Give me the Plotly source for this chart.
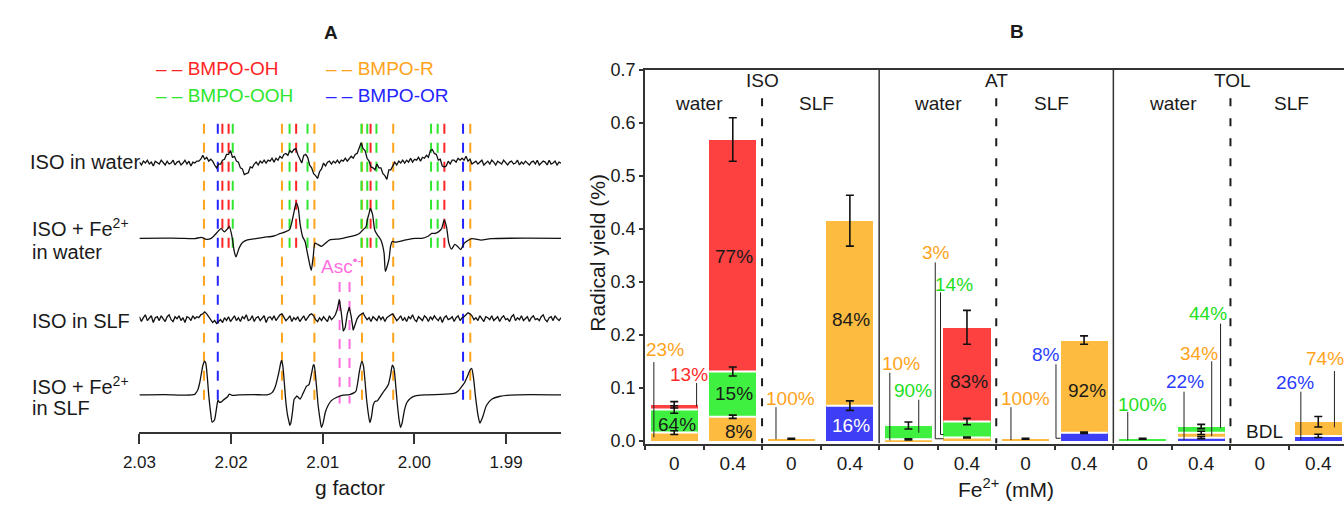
import numpy as np
import plotly.graph_objects as go

W, H = 1344, 508
FONT = "Liberation Sans, Arial, Helvetica, sans-serif"
INK = "#1a1a1a"

# ------------------------------------------------------------------
# Panel A data: EPR spectra, g factor vs. intensity (a.u.)
# ------------------------------------------------------------------
G_LEFT, G_RIGHT = 2.03, 1.984

# noisy spectra, recorded on an even sweep from G_LEFT to G_RIGHT
iso_water = [1, -2, 2, 0, 3, -1, 1, -3, 2, 0, -1, 3, 1, -2, 2, -1, 0, 3, -2, 1,
             2, -2, 0, 3, -1, 2, -3, 1, 0, 2,
             2, 4, 8, 4, 6, 2, 4, 2, -2, -5,
             -1, -1, 3, 4, 9, 9, 13, 6, 7, 2,
             1, -5, -6, -12, -11, -10, -4, -5, -1, 1,
             -2, 2, 0, 3, 0, 3, 2, 5, 1, 5,
             3, 7, 5, 9, 10, 8, 13, 11, 14, 15,
             9, 5, 0, 8, 9, 6, -2, -5, -11, -13,
             -16, -9, -6, 0, -3, 1, 2, -1, 2, 0,
             3, 0, 3, 2, 5, 2, 5, 7, 5, 9,
             10, 16, 21, 15, 13, 5, 2, -4, -5, -7,
             -1, -5, -5, -11, -13, -17, -7, -7, -2, 1,
             -2, 2, 0, 3, 0, 3, 1, 5, 1, 4,
             3, 6, 2, 6, 5, 8, 6, 13, 14, 10,
             9, 3, 4, -3, -4, -3, 2, -1, 3, 3,
             1, 5, 3, 5, 3, 7, 2, 4, -1, 1,
             2, -1, 1, 3, -2, 0, 2, -1, 3, 1, -2, 2, 0, -1, 3, 1, -2, 1, 2, -1,
             0, 3, -2, 1, -1, 2, 0, -2, 1, 2, -1, 3, -2, 0, 2, 1, -2, 3, -1, 0,
             2, -2, 1, 0]

iso_slf = [2, -3, 1, 4, -2, 0, 3, -4, 1, 2,
           -2, 3, 0, -3, 2, 4, -1, -3, 2, 0,
           3, -2, 1, -4, 2, 1, -2, 3, 0, 2,
           1, 4, 5, 7, 5, 2, -1, -4, -2, -5,
           -3, -1, -4, 1, -2, 2, -3, 0, 3, -2,
           1, -3, 2, 0, 4, -2, -1, 3, -3, 1,
           2, -2, 0, 3, -4, 1, 2, -1, 3, -2,
           1, 4, 5, 2, -2, 0, 3, -3, 1, -1,
           2, -3, 0, 3, -2, 1, 4, 5, 3, -1,
           -3, 1, -2, 2, 0, -3, 3, -1, 1, 4,
           10, 20, 6, -13, -9, 5, 12, 2, -12, -6, 0,
           3, 5, 6, 2, -1, 1, -3, 2, 0, -2,
           3, -1, 2, -3, 1, 3, 4, 5, 1, -2,
           0, 3, -2, 1, -3, 2, 0, 4, -1, -3,
           2, 0, -2, 3, 1, -3, 2, -1, 3, 0,
           -2, 2, -4, 1, 3, -1, 0, 2, -3, 1,
           3, -2, 1, 2, 4, 6, 5, 3, -1, 1,
           -2, 3, 0, -3, 2, 1, -1, 3, -2, 0,
           2, -3, 1, 3, -1, 0, -3, 2, 4, -2,
           1, -1, 3, -2, 0, 2, -3, 1, 3, -1,
           0, -2, 2, 4, -1, -3, 1, 2, -2, 3,
           0, -2, 1]

# smooth spectra with Fe2+, given as (g, intensity) points
fe_water_g = [2.03000, 2.02720, 2.02558, 2.02397, 2.02324, 2.02270, 2.02217, 2.02163,
              2.02109, 2.02073, 2.02038, 2.02019, 2.01990, 2.01966, 2.01947, 2.01912,
              2.01876, 2.01822, 2.01750, 2.01642, 2.01534, 2.01462, 2.01408, 2.01362,
              2.01337, 2.01311, 2.01290, 2.01268, 2.01247, 2.01219, 2.01193, 2.01168,
              2.01139, 2.01125, 2.01103, 2.01085, 2.01050, 2.01014, 2.00977, 2.00923,
              2.00816, 2.00708, 2.00637, 2.00600, 2.00565, 2.00529, 2.00511, 2.00492,
              2.00482, 2.00457, 2.00432, 2.00403, 2.00367, 2.00331, 2.00317, 2.00277,
              2.00260, 2.00241, 2.00206, 2.00134, 2.00061, 1.99990, 1.99918, 1.99846,
              1.99810, 1.99775, 1.99738, 1.99703, 1.99674, 1.99649, 1.99624, 1.99595,
              1.99559, 1.99530, 1.99494, 1.99455, 1.99374, 1.99272, 1.99164, 1.98400]
fe_water_int = [0, 0.2, 0, -0.3, 1, -1, 0, 5,
                10, 6.7, 10, 12.4, 1.7, -13.3, -19.3, -10,
                -4.3, -1.6, -0.6, 1, 2.4, 5, 6.7, 9,
                16.7, 28.4, 36.7, 31.7, 15, 1.7, -3.3, -15,
                -28.3, -33.3, -18.3, -5, -6.6, -8.3, -5.6, -1.6,
                -0.6, 1.7, 3.4, 5, 8.4, 11.7, 20, 26.7,
                31, 25, 8.4, 3.4, -1.6, -15, -34.3, -21.6,
                -8.3, -3.3, -4, -2.6, -1, 0, 0, 2.4,
                5, 5, 6.7, 10, 19, 11.7, -5, -11.3,
                -6.3, -8.3, -11.6, -5, -0.3, -1.8, -0.3, 0]

fe_slf_g = [2.03000, 2.02720, 2.02504, 2.02397, 2.02378, 2.02361, 2.02343, 2.02324,
            2.02307, 2.02289, 2.02275, 2.02260, 2.02243, 2.02224, 2.02206, 2.02181,
            2.02159, 2.02143, 2.02127, 2.02106, 2.02084, 2.02041, 2.02019, 2.01987,
            2.01912, 2.01750, 2.01607, 2.01553, 2.01516, 2.01481, 2.01456, 2.01448,
            2.01434, 2.01419, 2.01402, 2.01384, 2.01365, 2.01359, 2.01348, 2.01330,
            2.01311, 2.01294, 2.01283, 2.01247, 2.01211, 2.01176, 2.01150, 2.01122,
            2.01103, 2.01096, 2.01085, 2.01068, 2.01050, 2.01031, 2.01014, 2.00996,
            2.00971, 2.00942, 2.00906, 2.00852, 2.00780, 2.00708, 2.00656, 2.00637,
            2.00619, 2.00600, 2.00575, 2.00557, 2.00540, 2.00522, 2.00503, 2.00486,
            2.00468, 2.00450, 2.00432, 2.00403, 2.00367, 2.00331, 2.00306, 2.00284,
            2.00260, 2.00241, 2.00223, 2.00206, 2.00188, 2.00169, 2.00152, 2.00134,
            2.00109, 2.00080, 2.00045, 1.99990, 1.99883, 1.99667, 1.99559, 1.99523,
            1.99494, 1.99455, 1.99422, 1.99393, 1.99374, 1.99353, 1.99334, 1.99306,
            1.99285, 1.99254, 1.99214, 1.99153, 1.99074, 1.98955, 1.98733, 1.98400]
fe_slf_int = [0, 0.3, -0.3, 0.5, 2.7, 5.7, 12.3, 22.3,
              30.7, 35, 32.3, 19, -1, -17.7, -28.3, -26,
              -14, -5.5, -7.7, -7.3, -5.3, -2.3, 0.7, -0.5,
              0, 0.3, 0, 2.3, 9, 22.3, 34, 35.7,
              29, 12.3, -7.7, -21, -29.3, -31.7, -29.3, -17.7,
              -4.3, -2.7, -1, -4.3, 2.3, 9, 10.7, 22.3,
              30.7, 31.3, 25.7, 9, -11, -24.3, -33.7, -29.3,
              -17.7, -11, -6, -2.7, -0.3, 0.3, 2.3, 4,
              12.3, 24, 34.7, 30.7, 15.7, -4.3, -19.3, -28.7,
              -22.7, -11, -7, -6, -1, 4, 7.3, 10.7,
              20.7, 30.7, 27.3, 12.3, -7.7, -24.3, -33.7, -29.3,
              -16, -7.7, -3.7, -1, 0, 0.7, 1.7, 4,
              7.3, 12.3, 19, 25.7, 27.3, 16, -1, -21,
              -29.3, -22.7, -11, -4.3, -1.7, -0.3, 0.3, 0]

# line positions (g) of the spin adducts and of the ascorbyl radical
lines_r = [2.02296, 2.01445, 2.01091, 2.00572, 2.00231, 1.99390]
lines_or = [2.02145, 1.99469]
lines_oh = [2.02095, 2.02027, 2.01290, 2.00478, 1.99673]
lines_ooh = [2.01982, 2.01362, 2.01166, 2.00578, 2.00514, 2.00414, 1.99818, 1.99746]
lines_asc = [2.00816, 2.00708]

g_ticks = [2.03, 2.02, 2.01, 2.00, 1.99]

# ------------------------------------------------------------------
# Panel B data: radical yield (%) and adduct shares
# ------------------------------------------------------------------
fe_levels = ["0", "0.4", "0", "0.4", "0", "0.4", "0", "0.4", "0", "0.4", "0", "0.4"]
totals = [0.068, 0.568, 0.004, 0.415, 0.029, 0.214, 0.004, 0.190, 0.004, 0.027, 0.0, 0.036]
pct_or = [0, 0, 0, 16, 0, 0, 0, 8, 0, 22, 0, 26]
pct_r = [23, 8, 100, 84, 10, 3, 100, 92, 0, 34, 0, 74]
pct_ooh = [64, 15, 0, 0, 90, 14, 0, 0, 100, 44, 0, 0]
pct_oh = [13, 77, 0, 0, 0, 83, 0, 0, 0, 0, 0, 0]
err_or = [0, 0, 0, 0.009, 0, 0, 0, 0.0012, 0, 0.002, 0, 0.003]
err_r = [0.0035, 0.003, 0.0008, 0.048, 0.001, 0.001, 0.0008, 0.008, 0, 0.003, 0, 0.010]
err_ooh = [0.007, 0.0085, 0, 0, 0.0065, 0.006, 0, 0, 0.001, 0.004, 0, 0]
err_oh = [0.006, 0.041, 0, 0, 0, 0.032, 0, 0, 0, 0, 0, 0]
y_ticks_b = [0.0, 0.1, 0.2, 0.3, 0.4, 0.5, 0.6, 0.7]

# ------------------------------------------------------------------
# colours
# ------------------------------------------------------------------
C_RED, C_GREEN, C_ORANGE, C_BLUE, C_PINK = "#ff2424", "#2ee62e", "#ffa31a", "#2424ff", "#ff6fe0"
BAR = {"or": "#3e3ef6", "r": "#fdbb3f", "ooh": "#40f040", "oh": "#fd4141"}
TXT = {"or": "#2a3cff", "r": "#ffa31a", "ooh": "#22e022", "oh": "#ff2b2b"}


def px_x(px):
    return px / W


def px_y(py):
    return 1 - py / H


fig = go.Figure()

# ------------------------------------------------------------------
# Panel A
# ------------------------------------------------------------------
A_AXIS_PX, A_TOP_PX = 437.5, 100.0     # panel A y-units are pixels above the g axis


def a_level(py):
    return A_AXIS_PX - py


def marker_lines(gs, top, bottom, color):
    xs, ys = [], []
    for g in gs:
        xs += [g, g, None]
        ys += [top, bottom, None]
    fig.add_trace(go.Scatter(x=xs, y=ys, mode="lines", xaxis="x", yaxis="y",
                             line=dict(color=color, width=2, dash="10px,9px"),
                             hoverinfo="skip", showlegend=False))


marker_lines(lines_r, a_level(118), a_level(412), C_ORANGE)
marker_lines(lines_or, a_level(118), a_level(412), C_BLUE)
marker_lines(lines_asc, a_level(282), a_level(408), C_PINK)
marker_lines(lines_oh, a_level(118), a_level(250), C_RED)
marker_lines(lines_ooh, a_level(118), a_level(250), C_GREEN)

baseline = {"iso_water": a_level(158.7), "fe_water": a_level(236.7),
            "iso_slf": a_level(320.0), "fe_slf": a_level(399.0)}

spectra = [
    (np.linspace(G_LEFT, G_RIGHT, len(iso_water)), np.array(iso_water, float), "iso_water", "linear"),
    (np.array(fe_water_g), np.array(fe_water_int), "fe_water", "spline"),
    (np.linspace(G_LEFT, G_RIGHT, len(iso_slf)), np.array(iso_slf, float), "iso_slf", "linear"),
    (np.array(fe_slf_g), np.array(fe_slf_int), "fe_slf", "spline"),
]
for gx, inten, key, shape in spectra:
    fig.add_trace(go.Scatter(x=gx, y=inten + baseline[key], mode="lines",
                             xaxis="x", yaxis="y",
                             line=dict(color="#111111", width=1.3, shape=shape,
                                       smoothing=0.6 if shape == "spline" else None),
                             hoverinfo="skip", showlegend=False))

# ------------------------------------------------------------------
# Panel B: stacked bars
# ------------------------------------------------------------------
B_X0_PX, B_CAT_PX = 636.0, 59.3
B_ZERO_PX, B_TOP_PX = 446.7, 61.7
B_YMIN = -0.005
b_per_unit = (B_ZERO_PX - B_TOP_PX) / 0.7
BAR_W = 0.804

cats = np.arange(len(totals))
tot = np.array(totals)
species = [("or", pct_or, err_or), ("r", pct_r, err_r),
           ("ooh", pct_ooh, err_ooh), ("oh", pct_oh, err_oh)]
seg = {k: tot * np.array(p) / 100.0 for k, p, _ in species}

for k, _, _ in species:
    fig.add_trace(go.Bar(x=cats, y=seg[k], width=BAR_W, xaxis="x2", yaxis="y2",
                         marker=dict(color=BAR[k], line=dict(width=0)),
                         hoverinfo="skip", showlegend=False))

# white seams between stacked segments, then error bars at segment tops
seam_x, seam_y = [], []
err_x, err_y, err_v = [], [], []
cum = np.zeros(len(totals))
for idx, (k, _, e) in enumerate(species):
    top = cum + seg[k]
    for i in cats:
        if seg[k][i] > 0:
            above = any(seg[kk][i] > 0 for kk, _, _ in species[idx + 1:])
            if above:
                seam_x += [i - BAR_W / 2, i + BAR_W / 2, None]
                seam_y += [top[i], top[i], None]
            if e[i] > 0:
                err_x.append(i)
                err_y.append(top[i])
                err_v.append(e[i])
    cum = top

fig.add_trace(go.Scatter(x=seam_x, y=seam_y, mode="lines", xaxis="x2", yaxis="y2",
                         line=dict(color="white", width=2), hoverinfo="skip", showlegend=False))
fig.add_trace(go.Scatter(x=err_x, y=err_y, mode="markers", xaxis="x2", yaxis="y2",
                         marker=dict(size=1, color="rgba(0,0,0,0)"),
                         error_y=dict(type="data", array=err_v, visible=True,
                                      color="#111111", thickness=1.6, width=4),
                         hoverinfo="skip", showlegend=False))
# carrier for the category label axis
fig.add_trace(go.Scatter(x=list(cats), y=[None] * len(cats), xaxis="x3", yaxis="y2",
                         mode="markers", hoverinfo="skip", showlegend=False))

# percentage labels: (category, species, x, y, colour, leader polyline)
label_spots = [
    (0, "r", -0.151, 0.1727, TXT["r"], [(-0.348, 0.1485), (-0.348, 0.0067)]),
    (0, "oh", 0.254, 0.1255, TXT["oh"], [(0.382, 0.109), (0.382, 0.065)]),
    (0, "ooh", 0.045, 0.030, INK, None),
    (1, "r", 1.102, 0.017, INK, None),
    (1, "ooh", 1.018, 0.089, INK, None),
    (1, "oh", 1.018, 0.347, INK, None),
    (2, "r", 1.979, 0.0795, TXT["r"], [(1.738, 0.0636), (1.738, 0.003)]),
    (3, "r", 3.013, 0.2285, INK, None),
    (3, "or", 3.024, 0.0285, "white", None),
    (4, "r", 3.868, 0.1455, TXT["r"], [(3.682, 0.1285), (3.682, 0.001)]),
    (4, "ooh", 4.075, 0.0958, TXT["ooh"], [(4.176, 0.0776), (4.176, 0.0153)]),
    (5, "r", 4.470, 0.3545, TXT["r"], [(4.458, 0.3364), (4.458, 0.004), (4.60, 0.004)]),
    (5, "ooh", 4.784, 0.294, TXT["ooh"], [(4.548, 0.280), (4.548, 0.012), (4.60, 0.012)]),
    (5, "oh", 5.031, 0.111, INK, None),
    (6, "r", 6.004, 0.080, TXT["r"], [(5.751, 0.0636), (5.751, 0.0013)]),
    (7, "or", 6.358, 0.1636, TXT["or"], [(6.52, 0.1444), (6.52, 0.005), (6.60, 0.005)]),
    (7, "r", 7.043, 0.0958, INK, None),
    (8, "ooh", 7.999, 0.068, TXT["ooh"], [(7.746, 0.0545), (7.746, 0.001)]),
    (9, "or", 8.719, 0.112, TXT["or"], [(8.707, 0.0927), (8.707, 0.001)]),
    (9, "r", 8.966, 0.165, TXT["r"], [(9.18, 0.150), (9.18, 0.009)]),
    (9, "ooh", 9.112, 0.2395, TXT["ooh"], [(9.331, 0.221), (9.331, 0.024)]),
    (11, "or", 10.601, 0.110, TXT["or"], [(10.702, 0.0927), (10.702, 0.001)]),
    (11, "r", 11.119, 0.1545, TXT["r"], [(11.276, 0.1316), (11.276, 0.0255)]),
]
pct_of = {k: p for k, p, _ in species}

annotations = []
lead_x, lead_y = [], []
for cat, k, lx, ly, col, leader in label_spots:
    annotations.append(dict(x=lx, y=ly, xref="x2", yref="y2", text=f"{pct_of[k][cat]}%",
                            showarrow=False, font=dict(size=19, color=col),
                            xanchor="center", yanchor="middle"))
    if leader:
        lead_x += [p[0] for p in leader] + [None]
        lead_y += [p[1] for p in leader] + [None]
fig.add_trace(go.Scatter(x=lead_x, y=lead_y, mode="lines", xaxis="x2", yaxis="y2",
                         line=dict(color="#222222", width=1), hoverinfo="skip", showlegend=False))

annotations.append(dict(x=10.079, y=0.017, xref="x2", yref="y2", text="BDL", showarrow=False,
                        font=dict(size=19, color=INK), xanchor="center", yanchor="middle"))

# group headings
for txt, gx, gy in [("ISO", 1.5, 0.679), ("water", 0.43, 0.636), ("SLF", 2.43, 0.636),
                    ("AT", 5.5, 0.679), ("water", 4.51, 0.636), ("SLF", 6.45, 0.636),
                    ("TOL", 9.53, 0.679), ("water", 8.52, 0.636), ("SLF", 10.54, 0.636)]:
    annotations.append(dict(x=gx, y=gy, xref="x2", yref="y2", text=txt, showarrow=False,
                            font=dict(size=19, color=INK), xanchor="center", yanchor="middle"))

shapes = []
for sx in [1.5, 5.5, 9.5]:
    shapes.append(dict(type="line", xref="x2", yref="y2", x0=sx, x1=sx, y0=0.646, y1=B_YMIN,
                       line=dict(color=INK, width=2, dash="8px,12px")))
for sx in [3.5, 7.5]:
    shapes.append(dict(type="line", xref="x2", yref="y2", x0=sx, x1=sx, y0=B_YMIN, y1=0.7,
                       line=dict(color="#333333", width=1.5)))

# ------------------------------------------------------------------
# Panel A text
# ------------------------------------------------------------------
def paper_text(txt, x, y, size, color=INK, xanchor="left", **kw):
    annotations.append(dict(x=px_x(x), y=px_y(y), xref="paper", yref="paper", text=txt,
                            showarrow=False, font=dict(size=size, color=color),
                            xanchor=xanchor, yanchor="middle", **kw))


paper_text("<b>A</b>", 318, 23, 19, xanchor="center")
paper_text("<b>B</b>", 1013, 22, 19, xanchor="center")
paper_text("– – BMPO-OH", 138.7, 61, 19, C_RED)
paper_text("– – BMPO-OOH", 138.7, 89, 19, C_GREEN)
paper_text("– – BMPO-R", 310.7, 61, 19, C_ORANGE)
paper_text("– – BMPO-OR", 310.7, 89, 19, C_BLUE)
paper_text("ISO in water", 11, 158, 20)
paper_text("ISO + Fe<sup>2+</sup>", 13, 226, 20)
paper_text("in water", 13, 251, 20)
paper_text("ISO in SLF", 13, 322, 20)
paper_text("ISO + Fe<sup>2+</sup>", 13, 389, 20)
paper_text("in SLF", 13, 413, 20)
paper_text("Asc<sup>•-</sup>", 306, 264, 19, C_PINK)
paper_text("g factor", 337.5, 495, 21, xanchor="center")
paper_text("Radical yield (%)", 588, 252, 21, xanchor="center", textangle=-90)
paper_text("Fe<sup>2+</sup> (mM)", 1002, 496, 21, xanchor="center")

# ------------------------------------------------------------------
# Layout
# ------------------------------------------------------------------
a_dom_y = [px_y(A_AXIS_PX), px_y(A_TOP_PX)]
b_dom_y = [px_y(B_ZERO_PX - B_YMIN * b_per_unit), px_y(B_TOP_PX)]
b_dom_x = [px_x(B_X0_PX), 1.0]
b_xrange = [-0.5, -0.5 + (W - B_X0_PX) / B_CAT_PX]

fig.update_layout(
    width=W, height=H, margin=dict(l=0, r=0, t=0, b=0),
    paper_bgcolor="white", plot_bgcolor="white",
    font=dict(family=FONT, color=INK, size=18),
    barmode="stack", bargap=0, showlegend=False,
    xaxis=dict(domain=[px_x(124), px_x(551)], range=[G_LEFT, G_RIGHT], anchor="y",
               tickvals=g_ticks, ticktext=[f"{v:.2f}" for v in g_ticks],
               ticks="outside", ticklen=10, tickwidth=1.5, tickcolor="#333",
               showline=True, linecolor="#333", linewidth=1.5, showgrid=False, zeroline=False,
               tickfont=dict(size=17), ticklabelstandoff=4),
    yaxis=dict(domain=a_dom_y, range=[0, A_AXIS_PX - A_TOP_PX], anchor="x", visible=False),
    xaxis2=dict(domain=b_dom_x, range=b_xrange, anchor="y2",
                tickvals=[c - 0.5 for c in range(len(totals))], showticklabels=False,
                ticks="outside", ticklen=5, tickwidth=1.5, tickcolor="#333",
                showline=True, linecolor="#333", linewidth=1.5, mirror=True,
                showgrid=False, zeroline=False),
    xaxis3=dict(domain=b_dom_x, range=b_xrange, anchor="y2", overlaying="x2",
                tickvals=list(range(len(totals))), ticktext=fe_levels, ticks="",
                showline=False, showgrid=False, zeroline=False,
                tickfont=dict(size=19), ticklabelstandoff=6),
    yaxis2=dict(domain=b_dom_y, range=[B_YMIN, 0.7], anchor="x2",
                tickvals=y_ticks_b, ticktext=[f"{v:.1f}" for v in y_ticks_b],
                ticks="outside", ticklen=4, tickwidth=1.5, tickcolor="#333",
                showline=True, linecolor="#333", linewidth=1.5,
                showgrid=False, zeroline=False, tickfont=dict(size=18)),
    annotations=annotations, shapes=shapes,
)

fig.write_html("out.html")
